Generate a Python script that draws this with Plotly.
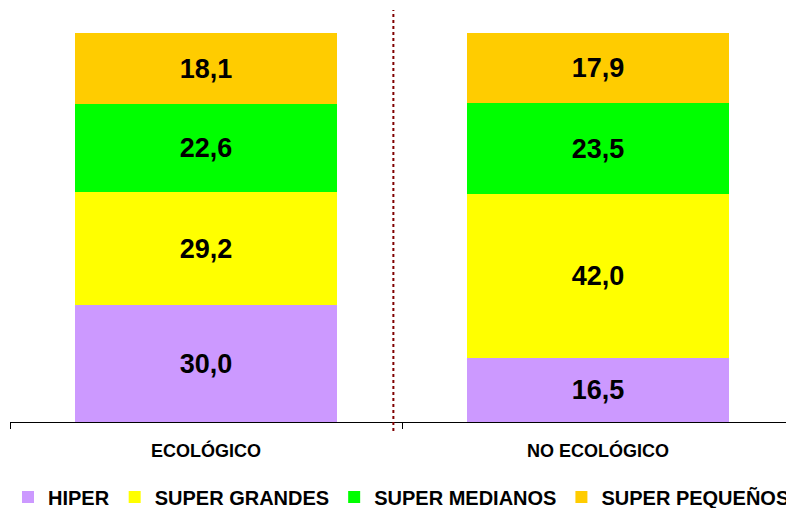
import plotly.graph_objects as go

# categories and series (percent)
categories = ["ECOLÓGICO", "NO ECOLÓGICO"]
hiper = [30.0, 16.5]
super_grandes = [29.2, 42.0]
super_medianos = [22.6, 23.5]
super_pequenos = [18.1, 17.9]

series = [
    ("HIPER", hiper, "#CC99FF"),
    ("SUPER GRANDES", super_grandes, "#FFFF00"),
    ("SUPER MEDIANOS", super_medianos, "#00FF00"),
    ("SUPER PEQUEÑOS", super_pequenos, "#FFCC00"),
]

FONT = "Arial, Liberation Sans, sans-serif"

fig = go.Figure()
for name, vals, col in series:
    fig.add_trace(go.Bar(
        x=categories, y=vals, name=name,
        marker=dict(color=col, line=dict(width=0)),
        texttemplate="%{y:.1f}", textposition="inside",
        insidetextanchor="middle", textangle=0,
        textfont=dict(family=FONT, size=27, color="black", weight="bold"),
    ))

# dotted separator between the two groups
fig.add_shape(type="line", xref="paper", yref="paper",
              x0=0.489, x1=0.489, y0=-0.023, y1=1.059,
              line=dict(color="#800000", width=2, dash="dot"))

# the page body adds an 8px margin, so the figure is 786x500
fig.update_layout(
    width=786, height=500,
    barmode="stack", bargap=0.333,
    separators=",.",
    margin=dict(l=2, r=0, t=25, b=86, autoexpand=False),
    paper_bgcolor="white", plot_bgcolor="white",
    font=dict(family=FONT, color="black"),
    showlegend=True,
    legend=dict(orientation="h", x=0.0, y=0.022, xref="container", yref="container",
                xanchor="left", yanchor="middle",
                font=dict(family=FONT, size=20, weight="bold"),
                traceorder="normal"),
    xaxis=dict(showline=True, linecolor="black", linewidth=1, automargin=False,
               ticks="outside", tickson="boundaries", ticklen=6, tickcolor="black",
               ticklabelstandoff=12,
               tickfont=dict(family=FONT, size=18, weight="bold")),
    yaxis=dict(range=[0, 100], visible=False),
)

fig.write_html("out.html")
